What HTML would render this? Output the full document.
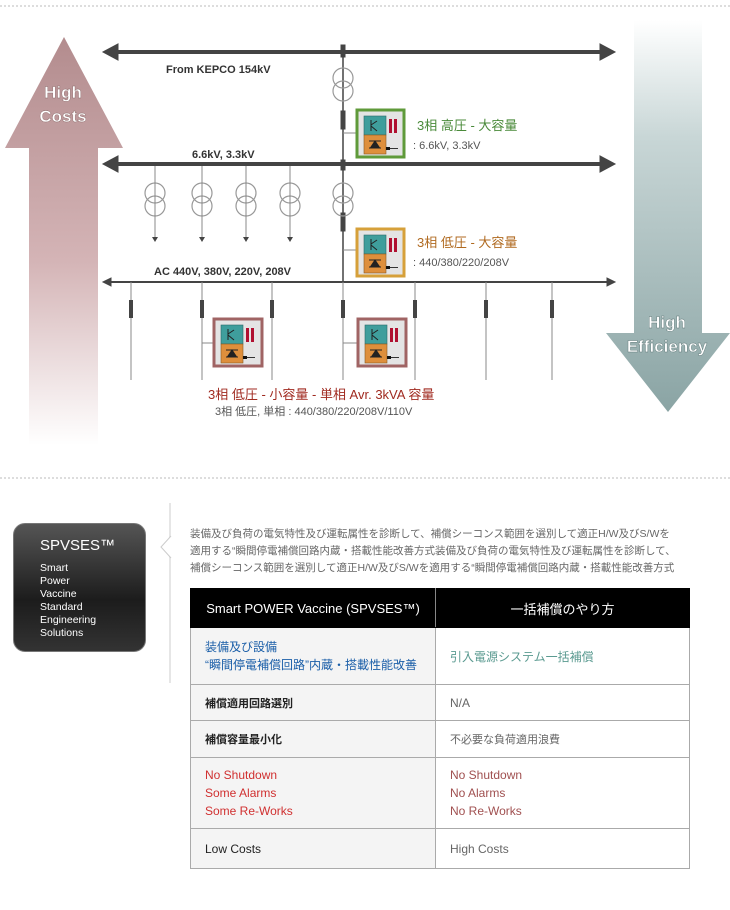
<!DOCTYPE html>
<html><head><meta charset="utf-8"><style>
body{margin:0;width:730px;height:910px;background:#fff;position:relative;overflow:hidden;font-family:"Liberation Sans","Noto Sans CJK JP",sans-serif}
.abs{position:absolute}
table{position:absolute;left:190px;top:588px;width:500px;border-collapse:collapse;font-size:12px}
td{border:1px solid #aaa;padding:0 0 0 14px;vertical-align:middle}
td.l{background:#f4f4f4;width:230px}
</style></head><body>
<svg class="abs" style="left:0;top:0" width="730" height="480">
<defs>
<linearGradient id="gl" x1="0" y1="0" x2="0" y2="1"><stop offset="0" stop-color="#b38c8e"/><stop offset="0.55" stop-color="#d4b4b6"/><stop offset="1" stop-color="#fff"/></linearGradient>
<linearGradient id="gr" x1="0" y1="0" x2="0" y2="1"><stop offset="0" stop-color="#fff"/><stop offset="0.3" stop-color="#c8d6d6"/><stop offset="1" stop-color="#8aa4a4"/></linearGradient>
<g id="conv">
<rect x="0" y="0" width="47" height="47" fill="#e4e4e4"/>
<rect x="6" y="5" width="22" height="19" fill="#3f9e9c" stroke="#2a6a6a" stroke-width="0.6"/>
<rect x="6" y="24" width="22" height="19" fill="#de8f3c" stroke="#8a5a20" stroke-width="0.6"/>
<path d="M13 9v11M13 14l6-4M13 15l6 5" stroke="#222" stroke-width="1" fill="none"/>
<path d="M11 30h12M17 30l-4 6h8z M11 37h12" stroke="#222" stroke-width="1" fill="#222"/>
<rect x="31" y="8" width="3" height="14" fill="#b01030"/><rect x="36" y="8" width="3" height="14" fill="#b01030"/>
<rect x="28" y="36" width="4" height="3" fill="#111"/><path d="M32 37.5h8" stroke="#333"/>
</g>
</defs>
<line x1="0" y1="6" x2="730" y2="6" stroke="#bbb" stroke-dasharray="2,2"/>
<path d="M64 37 L123 148 L98 148 L98 445 L29 445 L29 148 L5 148 Z" fill="url(#gl)"/>
<path d="M634 20 L702 20 L702 333 L730 333 L668 412 L606 333 L634 333 Z" fill="url(#gr)"/>
<g font-weight="bold" fill="#fff" font-size="17" text-anchor="middle" stroke="#8a6a6a" stroke-width="0.4">
<text x="63" y="98">High</text><text x="63" y="122">Costs</text></g>
<g font-weight="bold" fill="#fff" font-size="17" text-anchor="middle" stroke="#5a7474" stroke-width="0.4">
<text x="667" y="328">High</text><text x="667" y="352">Efficiency</text></g>
<g stroke="#444" fill="#444">
<line x1="112" y1="52" x2="606" y2="52" stroke-width="4"/>
<path d="M103 52l15-8v16zM615 52l-15-8v16z"/>
<line x1="112" y1="164" x2="606" y2="164" stroke-width="4"/>
<path d="M103 164l15-8v16zM615 164l-15-8v16z"/>
<line x1="110" y1="282" x2="608" y2="282" stroke-width="2"/>
<path d="M103 282l8-4v8zM615 282l-8-4v8z"/>
<line x1="343" y1="45" x2="343" y2="282" stroke-width="1.5"/>
<rect x="341" y="45" width="4" height="12"/><rect x="341" y="111" width="4" height="18"/><rect x="341" y="160" width="4" height="10"/><rect x="341" y="213" width="4" height="18"/>
</g>
<g stroke="#999" fill="none" stroke-width="1.2">
<circle cx="343" cy="78" r="10"/><circle cx="343" cy="91" r="10"/>
<circle cx="155" cy="193" r="10"/><circle cx="155" cy="206" r="10"/>
<circle cx="202" cy="193" r="10"/><circle cx="202" cy="206" r="10"/>
<circle cx="246" cy="193" r="10"/><circle cx="246" cy="206" r="10"/>
<circle cx="290" cy="193" r="10"/><circle cx="290" cy="206" r="10"/>
<circle cx="343" cy="193" r="10"/><circle cx="343" cy="206" r="10"/>
</g>
<g stroke="#888" stroke-width="1">
<line x1="155" y1="166" x2="155" y2="238"/><line x1="202" y1="166" x2="202" y2="238"/><line x1="246" y1="166" x2="246" y2="238"/><line x1="290" y1="166" x2="290" y2="238"/>
<line x1="131" y1="282" x2="131" y2="380"/><line x1="202" y1="282" x2="202" y2="380"/><line x1="272" y1="282" x2="272" y2="380"/><line x1="343" y1="282" x2="343" y2="380"/><line x1="415" y1="282" x2="415" y2="380"/><line x1="486" y1="282" x2="486" y2="380"/><line x1="552" y1="282" x2="552" y2="380"/>
<line x1="343" y1="133" x2="360" y2="133"/><line x1="343" y1="250" x2="360" y2="250"/><line x1="202" y1="343" x2="217" y2="343"/><line x1="343" y1="343" x2="361" y2="343"/>
</g>
<g fill="#444"><path d="M152 237h6l-3 5z M199 237h6l-3 5z M243 237h6l-3 5z M287 237h6l-3 5z"/>
<rect x="129" y="300" width="4" height="18"/><rect x="200" y="300" width="4" height="18"/><rect x="270" y="300" width="4" height="18"/><rect x="341" y="300" width="4" height="18"/><rect x="413" y="300" width="4" height="18"/><rect x="484" y="300" width="4" height="18"/><rect x="550" y="300" width="4" height="18"/></g>
<rect x="357" y="110" width="47" height="47" fill="none" stroke="#5f9a3a" stroke-width="3"/><use href="#conv" x="358" y="111"/>
<rect x="357" y="110" width="47" height="47" fill="none" stroke="#5f9a3a" stroke-width="3"/>
<use href="#conv" x="358" y="230"/><rect x="357" y="229" width="47" height="47" fill="none" stroke="#d6a03a" stroke-width="3"/>
<use href="#conv" x="215" y="320"/><rect x="214" y="319" width="48" height="47" fill="none" stroke="#a06464" stroke-width="3"/>
<use href="#conv" x="359" y="320"/><rect x="358" y="319" width="48" height="47" fill="none" stroke="#a06464" stroke-width="3"/>
<g font-size="11" font-weight="bold" fill="#333">
<text x="166" y="73">From KEPCO 154kV</text><text x="192" y="158">6.6kV, 3.3kV</text><text x="154" y="275">AC 440V, 380V, 220V, 208V</text></g>
<g font-size="13"><text x="417" y="130" fill="#4a8a3a">3相 高圧 - 大容量</text>
<text x="417" y="247" fill="#b06a20">3相 低圧 - 大容量</text>
<text x="208" y="399" fill="#a02a20">3相 低圧 - 小容量 - 単相 Avr. 3kVA 容量</text></g>
<g font-size="11" fill="#555"><text x="413" y="149">: 6.6kV, 3.3kV</text><text x="413" y="266">: 440/380/220/208V</text><text x="215" y="415">3相 低圧, 単相 : 440/380/220/208V/110V</text></g>
<line x1="0" y1="478" x2="730" y2="478" stroke="#bbb" stroke-dasharray="2,2"/>
</svg>
<div class="abs" style="left:13px;top:523px;width:133px;height:129px;border-radius:12px;background:linear-gradient(#555,#1c1c1c 60%,#333);border:1px solid #777;box-sizing:border-box;color:#fff">
<div style="position:absolute;left:26px;top:13px;font-size:15px">SPVSES™</div>
<div style="position:absolute;left:26px;top:38px;font-size:10.5px;line-height:13px">Smart<br>Power<br>Vaccine<br>Standard<br>Engineering<br>Solutions</div></div>
<div class="abs" style="left:169px;top:503px;width:2px;height:180px;background:#e6e6e6"></div>
<svg class="abs" style="left:159px;top:535px" width="14" height="24"><path d="M12 1 L2 12 L12 23" fill="#fff" stroke="#ccc"/></svg>
<div class="abs" style="left:190px;top:526px;font-size:10.5px;line-height:17px;color:#666;white-space:nowrap">装備及び負荷の電気特性及び運転属性を診断して、補償シーコンス範囲を選別して適正H/W及びS/Wを<br>適用する“瞬間停電補償回路内蔵・搭載性能改善方式装備及び負荷の電気特性及び運転属性を診断して、<br>補償シーコンス範囲を選別して適正H/W及びS/Wを適用する“瞬間停電補償回路内蔵・搭載性能改善方式</div>
<table>
<tr style="height:39px;background:#000;color:#fff;font-size:13px"><td style="border-color:#000 #888 #000 #000;text-align:center;padding:0">Smart POWER Vaccine (SPVSES™)</td><td style="border-color:#000;text-align:center;padding:0">一括補償のやり方</td></tr>
<tr style="height:57px"><td class="l" style="color:#1a5ea8;line-height:18px">装備及び設備<br>“瞬間停電補償回路”内蔵・搭載性能改善</td><td style="color:#5a9a90">引入電源システム一括補償</td></tr>
<tr style="height:36px"><td class="l" style="color:#222;font-weight:bold;font-size:11px">補償適用回路選別</td><td style="color:#666">N/A</td></tr>
<tr style="height:37px"><td class="l" style="color:#222;font-weight:bold;font-size:11px">補償容量最小化</td><td style="color:#666;font-size:11px">不必要な負荷適用浪費</td></tr>
<tr style="height:71px"><td class="l" style="color:#d03030;line-height:18px">No Shutdown<br>Some Alarms<br>Some Re-Works</td><td style="color:#a05050;line-height:18px">No Shutdown<br>No Alarms<br>No Re-Works</td></tr>
<tr style="height:40px"><td class="l" style="color:#222">Low Costs</td><td style="color:#666">High Costs</td></tr>
</table>
</body></html>
